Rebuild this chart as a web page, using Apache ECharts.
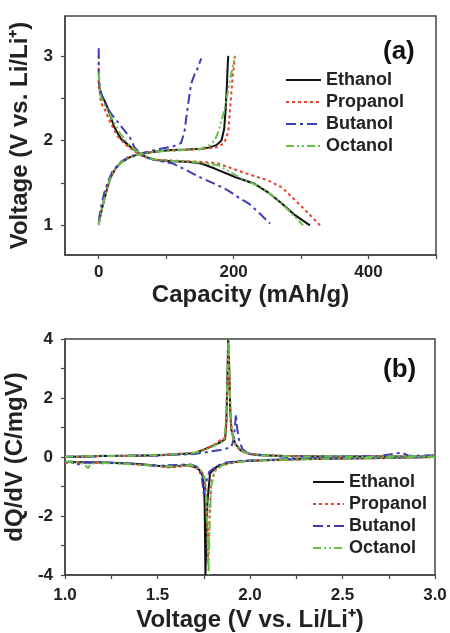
<!DOCTYPE html>
<html>
<head>
<meta charset="utf-8">
<script src="https://cdn.jsdelivr.net/npm/echarts@6/dist/echarts.min.js"></script>
<style>
  html, body { margin: 0; padding: 0; background: #fff; }
  #chart { width: 450px; height: 633px; }
</style>
</head>
<body>
<div id="chart"></div>
<script>
// legend names
var names = ['Ethanol', 'Propanol', 'Butanol', 'Octanol'];

// (a) capacity (mAh/g) vs voltage, discharge + charge branches
var ethanolDis = [[0,2.72],[1,2.62],[4,2.54],[8,2.48],[12,2.41],[16,2.32],[23,2.16],[33,2.02],[48,1.92],[63,1.83],[83,1.77],[110,1.755],[132,1.75],[152,1.73],[172,1.67],[202,1.57],[231,1.49],[251,1.39],[271,1.26],[291,1.12],[313,1.0]];
var ethanolChg = [[0,1.02],[2,1.1],[5,1.2],[9,1.33],[13,1.45],[18,1.57],[25,1.67],[33,1.74],[45,1.8],[60,1.84],[80,1.865],[103,1.885],[130,1.895],[152,1.905],[165,1.92],[175,1.95],[182,2.0],[186,2.14],[188,2.35],[190,2.65],[191,2.85],[192,3.0]];
var propanolDis = [[0,3.0],[0,2.7],[3,2.45],[10,2.35],[18,2.2],[28,2.05],[40,1.95],[55,1.86],[70,1.8],[90,1.77],[120,1.76],[150,1.75],[177,1.73],[212,1.63],[251,1.53],[271,1.45],[291,1.3],[311,1.14],[328,1.0]];
var propanolChg = [[0,1.03],[2,1.1],[5,1.21],[9,1.34],[13,1.46],[18,1.58],[25,1.68],[33,1.75],[45,1.81],[60,1.845],[80,1.87],[103,1.88],[130,1.89],[152,1.9],[175,1.92],[186,1.97],[192,2.1],[195,2.4],[198,2.7],[202,3.0]];
var butanolDis = [[0,3.09],[0,2.8],[2,2.6],[8,2.45],[18,2.32],[30,2.2],[38,2.12],[46,2.04],[53,1.92],[60,1.86],[70,1.8],[90,1.76],[110,1.73],[130,1.65],[152,1.56],[175,1.48],[192,1.41],[207,1.33],[222,1.26],[240,1.13],[254,1.02]];
var butanolChg = [[0,1.05],[3,1.2],[8,1.38],[14,1.52],[20,1.63],[30,1.73],[45,1.81],[68,1.86],[90,1.9],[110,1.93],[122,1.97],[127,2.1],[132,2.4],[137,2.67],[142,2.78],[147,2.86],[152,2.97]];
var octanolDis = [[0,2.8],[2,2.55],[6,2.46],[14,2.35],[22,2.22],[32,2.08],[45,1.95],[60,1.85],[80,1.78],[110,1.76],[140,1.75],[177,1.71],[212,1.55],[241,1.45],[261,1.33],[281,1.18],[303,1.0]];
var octanolChg = [[0,1.0],[2,1.1],[5,1.2],[9,1.33],[13,1.45],[18,1.57],[25,1.67],[33,1.74],[45,1.8],[60,1.84],[80,1.865],[103,1.88],[130,1.89],[150,1.9],[165,1.95],[172,2.0],[178,2.12],[186,2.35],[192,2.6],[198,2.85],[202,3.0]];

// (b) dQ/dV vs voltage, charge (upper) + discharge (lower) branches
var ethanolUp = [[1.0,0.0],[1.1,0.02],[1.2,0.03],[1.3,0.04],[1.4,0.04],[1.5,0.06],[1.6,0.09],[1.7,0.13],[1.75,0.25],[1.8,0.38],[1.84,0.5],[1.865,0.6],[1.872,1.2],[1.877,2.4],[1.882,4.0],[1.888,3.0],[1.893,1.6],[1.9,0.9],[1.92,0.45],[1.95,0.22],[2.0,0.1],[2.05,0.06],[2.2,0.03],[2.4,0.02],[2.6,0.02],[2.8,0.02],[3.0,0.02]];
var ethanolLow = [[1.0,-0.17],[1.1,-0.18],[1.2,-0.19],[1.3,-0.21],[1.4,-0.24],[1.5,-0.3],[1.57,-0.33],[1.62,-0.3],[1.66,-0.27],[1.71,-0.36],[1.73,-0.46],[1.748,-0.7],[1.755,-1.6],[1.759,-4.0],[1.765,-4.0],[1.77,-1.5],[1.784,-0.55],[1.82,-0.33],[1.874,-0.21],[1.95,-0.14],[2.1,-0.1],[2.3,-0.07],[2.5,-0.05],[2.7,-0.03],[2.9,-0.01],[3.0,0.0]];
var propanolUp = [[1.0,0.0],[1.1,0.01],[1.2,0.03],[1.3,0.03],[1.4,0.05],[1.5,0.05],[1.6,0.1],[1.7,0.15],[1.75,0.25],[1.8,0.4],[1.835,0.55],[1.85,0.65],[1.865,0.55],[1.874,1.3],[1.879,2.6],[1.884,3.6],[1.89,2.4],[1.896,1.2],[1.905,0.7],[1.925,0.35],[1.96,0.18],[2.0,0.1],[2.1,0.05],[2.3,0.02],[2.5,0.0],[2.7,0.03],[2.9,0.01],[3.0,0.02]];
var propanolLow = [[1.0,-0.2],[1.1,-0.18],[1.2,-0.21],[1.3,-0.2],[1.4,-0.26],[1.5,-0.31],[1.56,-0.36],[1.62,-0.32],[1.67,-0.28],[1.72,-0.38],[1.745,-0.55],[1.76,-1.0],[1.768,-2.2],[1.774,-3.6],[1.78,-2.2],[1.79,-0.9],[1.81,-0.45],[1.85,-0.28],[1.9,-0.2],[2.0,-0.13],[2.2,-0.1],[2.4,-0.06],[2.6,-0.05],[2.8,-0.03],[3.0,0.0]];
var butanolUp = [[1.0,0.02],[1.1,0.0],[1.2,0.04],[1.3,0.03],[1.4,0.06],[1.5,0.05],[1.6,0.08],[1.7,0.1],[1.78,0.18],[1.84,0.24],[1.88,0.3],[1.9,0.36],[1.912,0.6],[1.918,1.0],[1.924,1.45],[1.93,1.0],[1.94,0.6],[1.96,0.25],[2.0,0.1],[2.1,0.05],[2.2,0.0],[2.3,0.02],[2.5,0.02],[2.7,0.03],[2.82,0.15],[2.86,0.04],[3.0,0.06]];
var butanolLow = [[1.0,-0.17],[1.04,-0.15],[1.06,-0.28],[1.09,-0.2],[1.2,-0.17],[1.3,-0.2],[1.4,-0.25],[1.5,-0.3],[1.6,-0.27],[1.68,-0.25],[1.72,-0.35],[1.74,-0.7],[1.752,-1.35],[1.76,-0.9],[1.78,-0.5],[1.82,-0.3],[1.87,-0.19],[1.95,-0.13],[2.1,-0.1],[2.3,-0.05],[2.5,-0.04],[2.7,-0.02],[2.9,-0.01],[3.0,0.0]];
var octanolUp = [[1.0,0.01],[1.1,0.02],[1.2,0.04],[1.3,0.03],[1.4,0.05],[1.5,0.07],[1.6,0.09],[1.7,0.14],[1.75,0.22],[1.8,0.36],[1.84,0.48],[1.86,0.55],[1.872,1.4],[1.878,2.8],[1.883,4.0],[1.889,2.8],[1.895,1.5],[1.902,0.8],[1.92,0.45],[1.95,0.22],[2.0,0.09],[2.1,0.04],[2.3,0.02],[2.5,0.03],[2.6,0.0],[2.8,0.03],[3.0,0.02]];
var octanolLow = [[1.0,-0.15],[1.05,-0.17],[1.1,-0.22],[1.125,-0.38],[1.14,-0.22],[1.2,-0.2],[1.3,-0.22],[1.4,-0.26],[1.5,-0.3],[1.57,-0.32],[1.63,-0.3],[1.68,-0.27],[1.73,-0.4],[1.755,-0.7],[1.765,-1.4],[1.771,-2.8],[1.776,-4.0],[1.782,-2.4],[1.79,-1.0],[1.81,-0.5],[1.85,-0.27],[1.9,-0.19],[2.0,-0.12],[2.2,-0.09],[2.4,-0.06],[2.6,-0.04],[2.8,-0.02],[3.0,0.0]];

// ticks and tick labels
var capTicks = [0, 100, 200, 300, 400, 500];
var capLabels = [0, 200, 400];
var voltTicksA = [1, 1.5, 2, 2.5, 3];
var voltLabelsA = [1, 2, 3];
var voltLabelsB = [1.0, 1.5, 2.0, 2.5, 3.0];
var dqLabels = [-4, -2, 0, 2, 4];

var styles = {
  Ethanol:  { color: '#111111', type: 'solid' },
  Propanol: { color: '#e8432e', type: [3, 3] },
  Butanol:  { color: '#3d3db5', type: [10, 4, 3, 4] },
  Octanol:  { color: '#68c24a', type: [8, 3, 2, 3, 2, 3] }
};

var FONT = 'Liberation Sans, Arial, sans-serif';

function mkSeries(name, data, idx) {
  var s = styles[name];
  return {
    name: name,
    type: 'line',
    xAxisIndex: idx,
    yAxisIndex: idx,
    data: data,
    symbol: 'none',
    showSymbol: false,
    legendIcon: 'none',
    clip: true,
    lineStyle: { color: s.color, width: 2, type: s.type },
    itemStyle: { color: s.color }
  };
}

function showIf(list, digits) {
  return function (v) {
    for (var i = 0; i < list.length; i++) {
      if (Math.abs(v - list[i]) < 1e-6) return digits ? list[i].toFixed(digits) : String(list[i]);
    }
    return '';
  };
}

var axisCommon = {
  axisLine: { show: true, onZero: false, lineStyle: { color: '#444', width: 1.5 } },
  axisTick: { show: true, inside: false, length: 4, lineStyle: { color: '#444', width: 1.2 } },
  splitLine: { show: false },
  axisLabel: { color: '#222', fontSize: 17, fontWeight: 'bold', fontFamily: FONT },
  nameLocation: 'middle',
  nameTextStyle: { color: '#222', fontSize: 24, fontWeight: 'bold', fontFamily: FONT }
};

function ax(extra) {
  var o = JSON.parse(JSON.stringify(axisCommon));
  for (var k in extra) {
    if (k === 'axisLabel' || k === 'axisTick') { for (var j in extra[k]) o[k][j] = extra[k][j]; }
    else o[k] = extra[k];
  }
  return o;
}

var legendText = { color: '#222', fontSize: 18, fontWeight: 'bold', fontFamily: FONT, lineHeight: 22 };

var myChart = echarts.init(document.getElementById('chart'), null, { renderer: 'canvas' });
var option = {
  backgroundColor: '#fff',
  animation: false,
  grid: [
    { left: 65, right: 14, top: 16, height: 239, show: true, borderColor: '#444', borderWidth: 1.5,
      backgroundColor: 'transparent', containLabel: false, outerBoundsMode: 'none' },
    { left: 65, right: 15, top: 339, height: 236, show: true, borderColor: '#444', borderWidth: 1.5,
      backgroundColor: 'transparent', containLabel: false, outerBoundsMode: 'none' }
  ],
  xAxis: [
    ax({ type: 'value', gridIndex: 0, min: -50, max: 500, name: 'Capacity (mAh/g)', nameGap: 28,
         axisTick: { customValues: capTicks },
         axisLabel: { margin: 9, customValues: capLabels, formatter: showIf(capLabels) } }),
    ax({ type: 'value', gridIndex: 1, min: 1.0, max: 3.0, interval: 0.25, name: 'Voltage (V vs. Li/Li\u207A)', nameGap: 33,
         axisLabel: { margin: 12, formatter: showIf(voltLabelsB, 1) } })
  ],
  yAxis: [
    ax({ type: 'value', gridIndex: 0, min: 0.65, max: 3.47, name: 'Voltage (V vs. Li/Li\u207A)', nameGap: 28,
         axisTick: { customValues: voltTicksA },
         axisLabel: { margin: 12, customValues: voltLabelsA, formatter: showIf(voltLabelsA) } }),
    ax({ type: 'value', gridIndex: 1, min: -4, max: 4, interval: 1, name: 'dQ/dV (C/mgV)', nameGap: 30,
         axisLabel: { margin: 12, formatter: showIf(dqLabels) } })
  ],
  legend: [
    { data: names, left: 285, top: 69, padding: 0, orient: 'vertical', itemWidth: 35, itemHeight: 14, itemGap: 0,
      itemStyle: { opacity: 0 }, textStyle: legendText, selectedMode: false },
    { data: names, left: 312, top: 471, padding: 0, orient: 'vertical', itemWidth: 31, itemHeight: 14, itemGap: 0,
      itemStyle: { opacity: 0 }, textStyle: legendText, selectedMode: false }
  ],
  graphic: [
    { type: 'text', left: 383, top: 39, style: { text: '(a)', fill: '#111', font: 'bold 26px ' + FONT } },
    { type: 'text', left: 383, top: 357, style: { text: '(b)', fill: '#111', font: 'bold 26px ' + FONT } }
  ],
  series: [
    mkSeries('Ethanol', ethanolDis, 0), mkSeries('Ethanol', ethanolChg, 0),
    mkSeries('Propanol', propanolDis, 0), mkSeries('Propanol', propanolChg, 0),
    mkSeries('Butanol', butanolDis, 0), mkSeries('Butanol', butanolChg, 0),
    mkSeries('Octanol', octanolDis, 0), mkSeries('Octanol', octanolChg, 0),
    mkSeries('Ethanol', ethanolUp, 1), mkSeries('Ethanol', ethanolLow, 1),
    mkSeries('Propanol', propanolUp, 1), mkSeries('Propanol', propanolLow, 1),
    mkSeries('Butanol', butanolUp, 1), mkSeries('Butanol', butanolLow, 1),
    mkSeries('Octanol', octanolUp, 1), mkSeries('Octanol', octanolLow, 1)
  ]
};
myChart.setOption(option);
</script>
</body>
</html>
